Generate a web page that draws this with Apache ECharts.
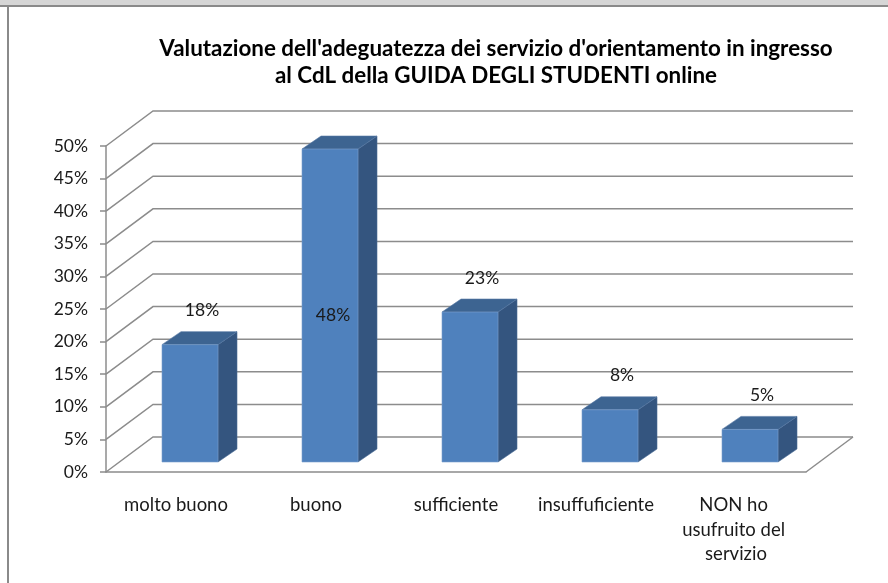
<!DOCTYPE html>
<html>
<head>
<meta charset="utf-8">
<script src="https://cdn.jsdelivr.net/npm/echarts@6/dist/echarts.min.js"></script>
<style>
  html, body { margin: 0; padding: 0; background: #fff; }
  #chart { width: 888px; height: 583px; }
</style>
</head>
<body>
<div id="chart"></div>
<script>
var titleLines = ["Valutazione dell'adeguatezza dei servizio d'orientamento in ingresso",
                  "al CdL della GUIDA DEGLI STUDENTI online"];
var categories = ['molto buono', 'buono', 'sufficiente', 'insuffuficiente', 'NON ho usufruito del servizio'];
var values = [0.18, 0.48, 0.23, 0.08, 0.05];
var labels = ['18%', '48%', '23%', '8%', '5%'];
var yTicks = [0, 0.05, 0.1, 0.15, 0.2, 0.25, 0.3, 0.35, 0.4, 0.45, 0.5];

var FONT = 'Lato';
var DEPTH_X = 47, DEPTH_Y = -35;   // back wall offset
var chart = echarts.init(document.getElementById('chart'));

function wallItem(params, api) {
    var cs = params.coordSys;
    var v = api.value(0);
    var y = api.coord([0, v])[1];
    var x0 = cs.x, x1 = cs.x + cs.width;
    var st = { stroke: '#8c8c8c', lineWidth: 1.5, fill: null };
    var kids = [{
        type: 'polyline',
        shape: { points: [[x0, y], [x0 + DEPTH_X, y + DEPTH_Y], [x1 + DEPTH_X, y + DEPTH_Y]] },
        style: st
    }];
    if (v === 0) {
        kids.push({ type: 'line', shape: { x1: x1, y1: y, x2: x1 + DEPTH_X, y2: y + DEPTH_Y }, style: st });
    }
    return { type: 'group', children: kids };
}

function barItem(params, api) {
    var i = api.value(0), v = api.value(1);
    var base = api.coord([i, 0]);
    var top = api.coord([i, v]);
    var bw = 56, ox = 14, oy = -10, dx = 19, dy = -13;
    var xl = base[0] - bw / 2 + ox, xr = xl + bw;
    var yb = base[1] + oy, yt = top[1] + oy;
    var lx, ly;
    // label above the bar, or inside when there is no room left
    if (yt - 33 < params.coordSys.y - 20) {
        lx = (xl + xr) / 2 + 3; ly = (yt + yb) / 2 + 10;
    } else {
        lx = (xl + xr) / 2 + 12; ly = yt - 34;
    }
    return {
        type: 'group',
        children: [
            { type: 'polygon', shape: { points: [[xr, yb], [xr, yt], [xr + dx, yt + dy], [xr + dx, yb + dy]] },
              style: { fill: '#34557f', stroke: '#4a6b96', lineWidth: 0.6 } },
            { type: 'polygon', shape: { points: [[xl, yt], [xr, yt], [xr + dx, yt + dy], [xl + dx, yt + dy]] },
              style: { fill: '#3d6491', stroke: '#5677a3', lineWidth: 0.6 } },
            { type: 'rect', shape: { x: xl, y: yt, width: bw, height: yb - yt },
              style: { fill: '#4f81bd', stroke: '#7b9fcc', lineWidth: 0.6 } },
            { type: 'text', x: lx, y: ly,
              style: { text: labels[i], fill: '#1a1a1a', font: '17.5px ' + FONT, align: 'center', verticalAlign: 'middle' } }
        ]
    };
}

chart.setOption({
    backgroundColor: '#fff',
    animation: false,
    title: {
        text: titleLines.join('\n'),
        left: 491, top: 30, textAlign: 'center',
        textStyle: { fontFamily: FONT, fontWeight: 'bold', fontSize: 22.4, lineHeight: 27, color: '#000' }
    },
    grid: { left: 106, right: 82, top: 146, bottom: 111 },
    xAxis: {
        type: 'category',
        data: categories,
        axisLine: { lineStyle: { color: '#8c8c8c', width: 1.5 } },
        axisTick: { length: 6, lineStyle: { color: '#8c8c8c', width: 1.5 } },
        axisLabel: { color: '#1a1a1a', fontFamily: FONT, fontSize: 18.5, lineHeight: 24.5, margin: 21,
                     width: 124, overflow: 'break', interval: 0 }
    },
    yAxis: {
        type: 'value', min: 0, max: 0.5, interval: 0.05,
        axisLine: { show: true, lineStyle: { color: '#8c8c8c', width: 1.5 } },
        axisTick: { show: true, length: 6, lineStyle: { color: '#8c8c8c', width: 1.5 } },
        splitLine: { show: false },
        axisLabel: { color: '#1a1a1a', fontFamily: FONT, fontSize: 17.5, margin: 18,
                     formatter: function (v) { return Math.round(v * 100) + '%'; } }
    },
    graphic: [
        { type: 'rect', shape: { x: 0, y: 0, width: 888, height: 5 }, style: { fill: '#d6d6d6' } },
        { type: 'line', shape: { x1: 0, y1: 6, x2: 888, y2: 6 }, style: { stroke: '#8a8a8a', lineWidth: 2 } },
        { type: 'line', shape: { x1: 8, y1: 6, x2: 8, y2: 583 }, style: { stroke: '#8a8a8a', lineWidth: 2 } }
    ],
    series: [
        { type: 'custom', renderItem: wallItem, data: yTicks.map(function (t) { return [t]; }),
          encode: { y: 0 }, silent: true, z: 1 },
        { type: 'custom', renderItem: barItem, data: values.map(function (v, i) { return [i, v]; }),
          encode: { x: 0, y: 1 }, z: 3 }
    ]
});
</script>
</body>
</html>
